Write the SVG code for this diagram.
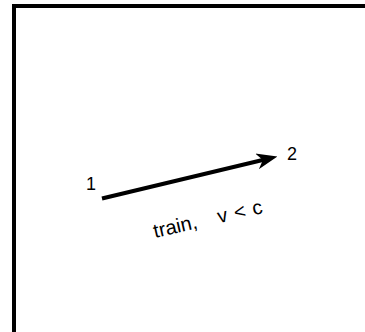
<svg xmlns="http://www.w3.org/2000/svg" width="365" height="332" viewBox="0 0 365 332">
<style>
.lbl{font-family:"Liberation Sans",Arial,sans-serif;font-size:18px;fill:#000;white-space:pre}
.edge{font-family:"Liberation Sans",Arial,sans-serif;font-size:20px;fill:#000;white-space:pre;word-spacing:1.5px}
</style>
<defs>
<marker id="ah" viewBox="0 0 21 16" refX="9" refY="8" markerWidth="21" markerHeight="16" markerUnits="userSpaceOnUse" orient="auto">
<path d="M0,0 L21,8 L0,16 L6,8 Z" fill="#000"/>
</marker>
</defs>
<rect width="365" height="332" fill="#fff"/>
<rect id="frame" x="14" y="6" width="400" height="400" fill="none" stroke="#000" stroke-width="4"/>
<g id="connectors">
<line x1="102" y1="198.5" x2="265.8" y2="159.3" stroke="#000" stroke-width="4" marker-end="url(#ah)"/>
<text class="edge" xml:space="preserve" transform="translate(155,238) rotate(-13)">train,   v &lt; c</text>
</g>
<g id="node1"><text class="lbl" x="86" y="190">1</text></g>
<g id="node2"><text class="lbl" x="287" y="160">2</text></g>
</svg>
